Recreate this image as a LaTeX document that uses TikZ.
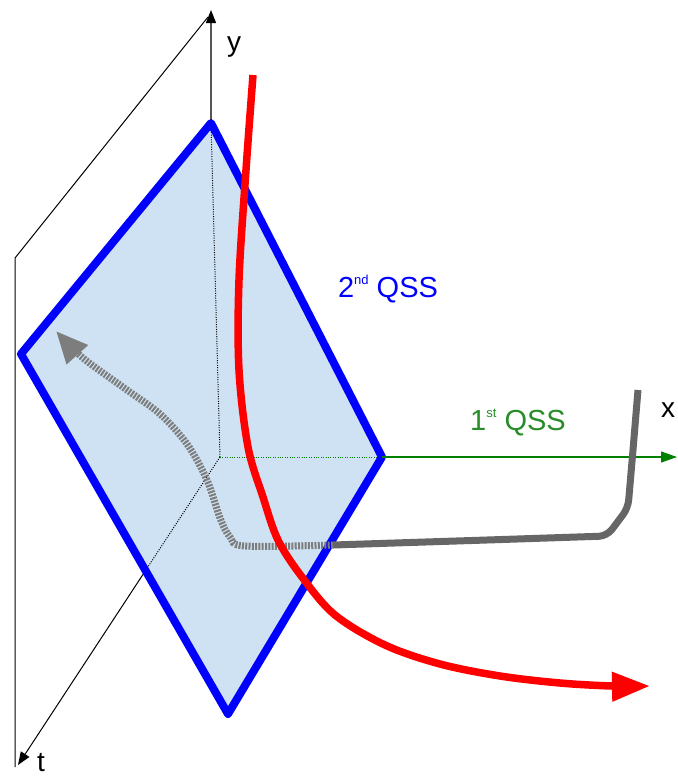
\documentclass[tikz,border=0pt]{standalone}
\usepackage{fontspec}
\setmainfont{Liberation Sans}
\usetikzlibrary{arrows.meta,calc}
\definecolor{qblue}{RGB}{0,0,255}
\definecolor{qfill}{RGB}{207,226,243}
\definecolor{qgreen}{RGB}{0,128,0}
\definecolor{qtext}{RGB}{40,140,40}
\definecolor{qred}{RGB}{255,0,0}
\definecolor{qgray}{RGB}{102,102,102}
\definecolor{qgrayl}{RGB}{125,125,125}
\definecolor{qaxis}{RGB}{85,85,85}
\begin{document}
\begin{tikzpicture}[x=1pt,y=-1pt,
  thinline/.style={black,line width=1pt},
  dotline/.style={black,line width=1pt,dash pattern=on 1pt off 1.4pt},
  plane/.style={qblue,line width=8pt,line join=round},
  redcurve/.style={qred,line width=7.5pt,line cap=butt,-{Triangle[length=38pt,width=28pt]}},
  graysolid/.style={qgray,line width=7pt,rounded corners=8pt},
  graydash/.style={qgrayl,line width=7pt,dash pattern=on 2pt off 1.3pt,-{Triangle[length=32pt,width=27pt]}},
  lbl/.style={font=\fontsize{28}{32}\selectfont,inner sep=0pt},
  qsslbl/.style={font=\fontsize{29}{33}\selectfont,inner sep=0pt}]
\useasboundingbox (0,0) rectangle (678,780);
\clip (0,0) rectangle (678,780);
% coordinates
\coordinate (O) at (220,457);
\coordinate (ytip) at (211,10);
\coordinate (pTop) at (208,17);
\coordinate (pLeft) at (15,258);
\coordinate (pBot) at (15,767);
\coordinate (ttip) at (18,765);
\coordinate (xtip) at (677,457);
\coordinate (dTop) at (211,123);
\coordinate (dLeft) at (21,354);
\coordinate (dBot) at (228,714);
\coordinate (dRight) at (382,457);
% background plane of y-t
\draw[thinline] (pTop) -- (pLeft) -- (pBot);
\draw[thinline,-{Triangle[length=13pt,width=10pt]}] (O) -- (ttip);
\draw[qaxis,line width=1.2pt,-{Triangle[length=13pt,width=10pt,color=black]}] (dTop) -- (ytip);
% diamond fill
\fill[qfill] (dTop) -- (dLeft) -- (dBot) -- (dRight) -- cycle;
% dotted axes inside
\draw[dotline] (O) -- (dTop);
\draw[dotline] (O) -- ($(O)!0.37!(ttip)$);
\draw[qgreen,line width=1pt,dash pattern=on 1pt off 1.4pt] (O) -- (dRight);
% diamond border
\draw[plane] (dTop) -- (dLeft) -- (dBot) -- (dRight) -- cycle;
% x axis
\draw[qgreen,line width=1.1pt,-{Triangle[length=16pt,width=11pt]}] (dRight) -- (xtip);
% gray trajectory
\draw[graysolid] (638,390) -- (633,450) -- (628,508) -- (607,536) -- (487,540) -- (333,545);
\draw[graydash] plot[smooth,tension=0.55] coordinates {(333,545) (245,546) (230,537) (220,518) (207,480) (187,444) (160,414) (127,390) (83,358) (56,331)};
% red trajectory
\draw[redcurve] plot[smooth,tension=0.55] coordinates {(253,75) (246,170) (239,280) (239,370) (248,447) (263,497) (278,540) (302,577) (335,615) (385,645) (440,664) (500,676) (560,683) (612,686) (650,686)};
% labels
\node[lbl,anchor=center] (ylbl) at (234,47) {y};
\node[lbl,anchor=center] (tlbl) at (41,763) {t};
\node[lbl,anchor=center] (xlbl) at (668,410) {x};
\node[qsslbl,text=qblue] (qss2) at (388,289) {2\raisebox{13pt}{\fontsize{13}{13}\selectfont nd} QSS};
\node[qsslbl,text=qtext] (qss1) at (518,423) {1\raisebox{13pt}{\fontsize{13}{13}\selectfont st} QSS};
\end{tikzpicture}
\end{document}
